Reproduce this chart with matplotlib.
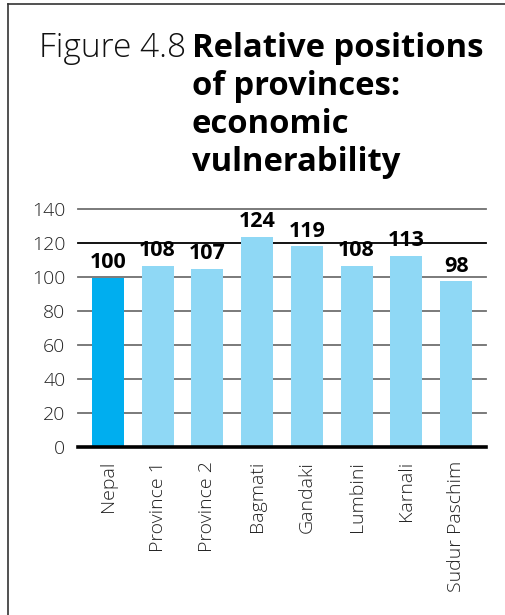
import matplotlib
matplotlib.use("Agg")
import matplotlib.pyplot as plt
from matplotlib.lines import Line2D

categories = ["Nepal", "Province 1", "Province 2", "Bagmati", "Gandaki",
              "Lumbini", "Karnali", "Sudur Paschim"]
values = [99.5, 106.5, 105, 123.5, 118, 106.5, 112.5, 97.5]
value_labels = ["100", "108", "107", "124", "119", "108", "113", "98"]
yticks = [0, 20, 40, 60, 80, 100, 120, 140]

W, H = 506, 615
DPI = 100
plt.rcParams['font.family'] = ['Open Sans', 'DejaVu Sans']

fig = plt.figure(figsize=(W / DPI, H / DPI), dpi=DPI)

def fx(px):
    return px / W

def fy(py):
    return 1 - py / H

# Border (top and left)
fig.add_artist(Line2D([fx(8), 1.0], [fy(4), fy(4)], color="#333333", lw=1.2,
                      transform=fig.transFigure))
fig.add_artist(Line2D([fx(8), fx(8)], [fy(4), 0.0], color="#333333", lw=1.2,
                      transform=fig.transFigure))

# Title
fig.text(fx(186), fy(57), "Figure 4.8", ha="right", va="baseline",
         fontsize=24, fontweight="light", color="#111111")
title_lines = ["Relative positions", "of provinces:", "economic", "vulnerability"]
for i, line in enumerate(title_lines):
    fig.text(fx(192), fy(57 + 38 * i), line, ha="left", va="baseline",
             fontsize=23.6, fontweight="bold", color="#000000")

ax = fig.add_axes([fx(78), fy(447), fx(486) - fx(78), fy(209) - fy(447)])
colors = ["#00AEEF"] + ["#8FD8F5"] * (len(categories) - 1)
x = list(range(len(categories)))
bars = ax.bar(x, values, width=0.64, color=colors, zorder=3)

for xi, v, lab in zip(x, values, value_labels):
    ax.annotate(lab, (xi, v), xytext=(0, 7), textcoords="offset points",
                ha="center", va="baseline", fontsize=15.5, fontweight="bold",
                color="#000000", zorder=4, annotation_clip=False)

ax.set_xlim(-0.6, len(categories) - 0.4)
ax.set_ylim(0, 140)
ax.set_yticks(yticks)
ax.set_yticklabels([str(t) for t in yticks])
ax.set_xticks(x)
ax.set_xticklabels(categories, rotation=90)
ax.tick_params(axis="y", length=0, pad=9, labelsize=14, colors="#222222")
ax.tick_params(axis="x", length=0, pad=10, labelsize=14, colors="#222222")
for lab in ax.get_yticklabels() + ax.get_xticklabels():
    lab.set_fontweight("light")

for t in yticks[1:]:
    c = "#000000" if t == 120 else "#707070"
    ax.axhline(t, color=c, lw=1.3, zorder=1, clip_on=False)

for s in ["top", "right", "left"]:
    ax.spines[s].set_visible(False)
ax.spines["bottom"].set_color("#000000")
ax.spines["bottom"].set_linewidth(2.6)
ax.spines["bottom"].set_zorder(5)
ax.set_facecolor("none")

fig.savefig("out.png", dpi=DPI)
